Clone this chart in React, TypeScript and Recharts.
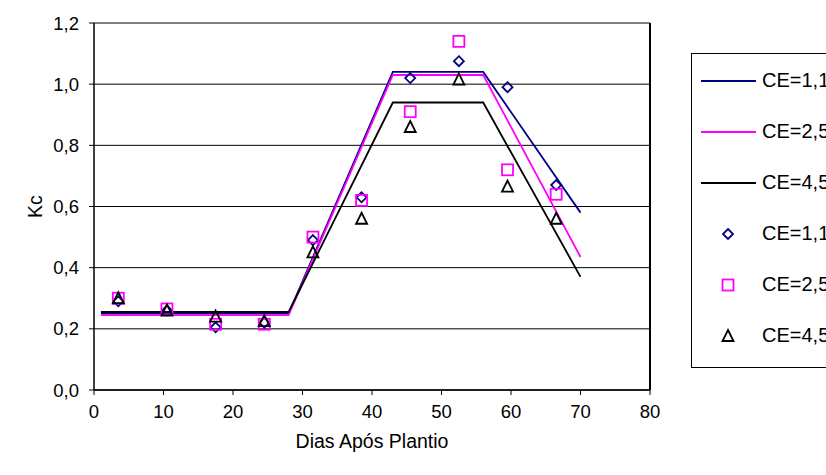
import { ComposedChart, Line, Scatter, XAxis, YAxis, CartesianGrid, ReferenceLine, Legend, Label } from "recharts";

// Kc curve breakpoints (days after planting)
const curveDays = [1, 28, 43, 56, 70];
const curveCE11 = [0.25, 0.25, 1.04, 1.04, 0.58];
const curveCE25 = [0.245, 0.245, 1.03, 1.03, 0.435];
const curveCE45 = [0.255, 0.255, 0.94, 0.94, 0.37];

// observed Kc
const obsDays = [3.5, 10.5, 17.5, 24.5, 31.5, 38.5, 45.5, 52.5, 59.5, 66.5];
const obsCE11 = [0.29, 0.26, 0.205, 0.22, 0.49, 0.63, 1.02, 1.075, 0.99, 0.67];
const obsCE25 = [0.3, 0.265, 0.215, 0.215, 0.5, 0.62, 0.91, 1.14, 0.72, 0.64];
const obsCE45 = [0.3, 0.26, 0.24, 0.225, 0.45, 0.56, 0.86, 1.015, 0.665, 0.56];

const xTicks = [0, 10, 20, 30, 40, 50, 60, 70, 80];
const yTicks = [0, 0.2, 0.4, 0.6, 0.8, 1.0, 1.2];

const NAVY = "#000080";
const MAGENTA = "#FF00FF";
const BLACK = "#000000";
const FONT = "'Liberation Sans', Arial, sans-serif";

const toPoints = (xs: number[], ys: number[]) => xs.map((x, i) => ({ x, y: ys[i] }));

const lineSeries = [
  { name: "CE=1,1", color: NAVY, data: toPoints(curveDays, curveCE11) },
  { name: "CE=2,5", color: MAGENTA, data: toPoints(curveDays, curveCE25) },
  { name: "CE=4,5", color: BLACK, data: toPoints(curveDays, curveCE45) },
];

type MarkerKind = "diamond" | "square" | "triangle";

const pointSeries: { name: string; color: string; marker: MarkerKind; data: { x: number; y: number }[] }[] = [
  { name: "CE=1,1", color: NAVY, marker: "diamond", data: toPoints(obsDays, obsCE11) },
  { name: "CE=2,5", color: MAGENTA, marker: "square", data: toPoints(obsDays, obsCE25) },
  { name: "CE=4,5", color: BLACK, marker: "triangle", data: toPoints(obsDays, obsCE45) },
];

function Marker({ kind, cx, cy, color }: { kind: MarkerKind; cx: number; cy: number; color: string }) {
  if (kind === "diamond") {
    return <path d={`M${cx},${cy - 5} L${cx + 5},${cy} L${cx},${cy + 5} L${cx - 5},${cy} Z`} fill="none" stroke={color} strokeWidth={1.8} />;
  }
  if (kind === "square") {
    return <rect x={cx - 5.5} y={cy - 5.5} width={11} height={11} fill="none" stroke={color} strokeWidth={1.8} />;
  }
  return <path d={`M${cx},${cy - 6} L${cx + 5.5},${cy + 5} L${cx - 5.5},${cy + 5} Z`} fill="none" stroke={color} strokeWidth={1.8} />;
}

const fmt = (v: number) => v.toFixed(1).replace(".", ",");

function LegendBox() {
  const rows = [
    ...lineSeries.map((s) => ({ name: s.name, color: s.color, marker: null as MarkerKind | null })),
    ...pointSeries.map((s) => ({ name: s.name, color: s.color, marker: s.marker as MarkerKind | null })),
  ];
  return (
    <div style={{ border: "1px solid #000", background: "#fff", paddingTop: 1, paddingBottom: 6, fontFamily: FONT, fontSize: 20 }}>
      {rows.map((r, i) => (
        <div key={i} style={{ height: 51, display: "flex", alignItems: "center" }}>
          <svg width={70} height={20} style={{ flex: "none" }}>
            {r.marker ? (
              <Marker kind={r.marker} cx={36} cy={10} color={r.color} />
            ) : (
              <line x1={9} x2={64} y1={10} y2={10} stroke={r.color} strokeWidth={1.8} />
            )}
          </svg>
          <span style={{ whiteSpace: "nowrap", color: "#000" }}>{r.name}</span>
        </div>
      ))}
    </div>
  );
}

export default function App() {
  return (
    <div style={{ position: "absolute", left: 0, top: 0, width: 826, height: 475, background: "#fff", overflow: "hidden" }}>
      <ComposedChart width={826} height={475} margin={{ top: 23, right: 176, bottom: 0, left: 0 }}>
        <CartesianGrid vertical={false} stroke="#000" strokeWidth={1} />
        <XAxis
          type="number"
          dataKey="x"
          domain={[0, 80]}
          ticks={xTicks}
          height={85}
          tickSize={5}
          tickMargin={10}
          axisLine={{ stroke: "#000", strokeWidth: 1.5 }}
          tickLine={{ stroke: "#000" }}
          tick={{ fill: "#000", fontSize: 18.5, fontFamily: FONT }}
          allowDuplicatedCategory={false}
        >
          <Label value="Dias Após Plantio" position="insideBottom" offset={27} fill="#000" fontSize={19.5} fontFamily={FONT} />
        </XAxis>
        <YAxis
          type="number"
          dataKey="y"
          domain={[0, 1.2]}
          ticks={yTicks}
          width={94}
          tickSize={5}
          tickMargin={10}
          tickFormatter={fmt}
          axisLine={{ stroke: "#000", strokeWidth: 1.5 }}
          tickLine={{ stroke: "#000" }}
          tick={{ fill: "#000", fontSize: 18.5, fontFamily: FONT }}
        >
          <Label value="Kc" angle={-90} position="center" dx={-12} fill="#000" fontSize={19.5} fontFamily={FONT} />
        </YAxis>
        <ReferenceLine y={1.2} stroke="#808080" strokeWidth={2} />
        <ReferenceLine x={80} stroke="#000" strokeWidth={2} />
        {lineSeries.map((s) => (
          <Line
            key={"l" + s.name}
            data={s.data}
            dataKey="y"
            type="linear"
            stroke={s.color}
            strokeWidth={1.8}
            dot={false}
            activeDot={false}
            isAnimationActive={false}
          />
        ))}
        {pointSeries.map((s) => (
          <Scatter
            key={"p" + s.name}
            data={s.data}
            dataKey="y"
            fill={s.color}
            isAnimationActive={false}
            shape={(p: any) => <Marker kind={s.marker} cx={p.cx} cy={p.cy} color={s.color} />}
          />
        ))}
        <Legend
          layout="vertical"
          align="center"
          verticalAlign="middle"
          content={() => <LegendBox />}
          wrapperStyle={{ left: 691, top: 53, width: 220, height: "auto" }}
        />
      </ComposedChart>
    </div>
  );
}
